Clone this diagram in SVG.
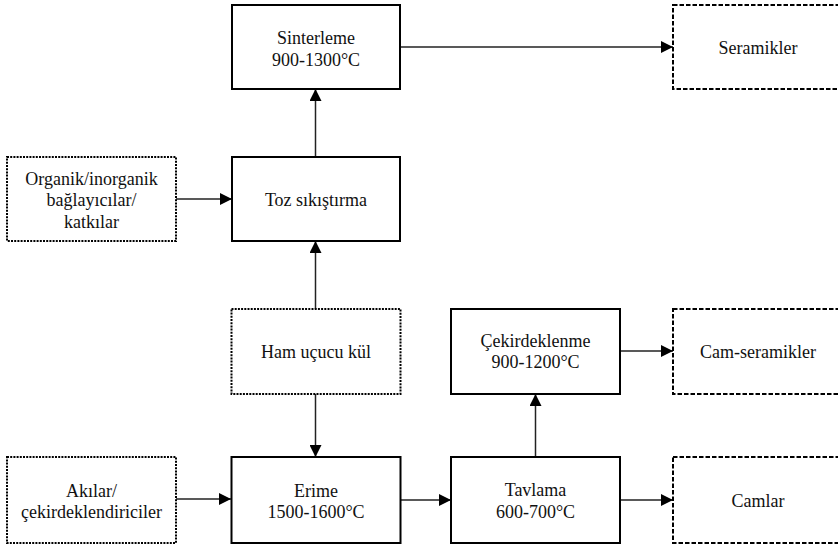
<svg xmlns="http://www.w3.org/2000/svg" width="838" height="549" viewBox="0 0 838 549">
  <style>
    .box { fill: #fff; stroke: #000; stroke-width: 2; }
    .input { fill: #fff; stroke: #000; stroke-width: 2; stroke-dasharray: 2 1.2; }
    .product { fill: #fff; stroke: #000; stroke-width: 2; stroke-dasharray: 4.5 2; }
    text { font-family: "Liberation Serif", "Times New Roman", serif; font-size: 18px; fill: #111; text-anchor: middle; }
    .link { stroke: #222; stroke-width: 1.5; fill: none; marker-end: url(#arrow); }
  </style>
  <defs>
    <marker id="arrow" markerUnits="userSpaceOnUse" markerWidth="12" markerHeight="12" refX="12" refY="6" orient="auto">
      <path d="M0,0 L12,6 L0,12 Z" fill="#000"/>
    </marker>
  </defs>
  <rect width="838" height="549" fill="#fff"/>

  <g id="connectors">
    <line class="link" x1="176" y1="199" x2="232" y2="199"/>
    <line class="link" x1="315.5" y1="157" x2="315.5" y2="89"/>
    <line class="link" x1="400" y1="47" x2="673" y2="47"/>
    <line class="link" x1="315.5" y1="309" x2="315.5" y2="241"/>
    <line class="link" x1="315.5" y1="394" x2="315.5" y2="457"/>
    <line class="link" x1="176" y1="499" x2="231" y2="499"/>
    <line class="link" x1="400" y1="500" x2="451" y2="500"/>
    <line class="link" x1="535.5" y1="457" x2="535.5" y2="394"/>
    <line class="link" x1="620" y1="351" x2="673" y2="351"/>
    <line class="link" x1="620" y1="500" x2="673" y2="500"/>
  </g>

  <g id="sinterleme">
    <rect class="box" x="232" y="5" width="168" height="84"/>
    <text x="316" y="44">Sinterleme</text>
    <text x="316" y="66">900-1300°C</text>
  </g>
  <g id="seramikler">
    <rect class="product" x="673" y="5" width="170" height="84"/>
    <text x="758" y="54">Seramikler</text>
  </g>
  <g id="organik">
    <rect class="input" x="7" y="157" width="169" height="84"/>
    <text x="91.5" y="185">Organik/inorganik</text>
    <text x="91.5" y="206">bağlayıcılar/</text>
    <text x="91.5" y="227.5">katkılar</text>
  </g>
  <g id="toz">
    <rect class="box" x="232" y="157" width="168" height="84"/>
    <text x="316" y="205.5">Toz sıkıştırma</text>
  </g>
  <g id="ham">
    <rect class="input" x="231.5" y="309" width="169" height="85"/>
    <text x="316" y="358">Ham uçucu kül</text>
  </g>
  <g id="cekirdeklenme">
    <rect class="box" x="451" y="309" width="169" height="85"/>
    <text x="535.5" y="346.5">Çekirdeklenme</text>
    <text x="535.5" y="368">900-1200°C</text>
  </g>
  <g id="cam-seramikler">
    <rect class="product" x="673" y="309" width="170" height="85"/>
    <text x="758" y="358">Cam-seramikler</text>
  </g>
  <g id="akilar">
    <rect class="input" x="7" y="457" width="169" height="86"/>
    <text x="91.5" y="496.5">Akılar/</text>
    <text x="91.5" y="518">çekirdeklendiriciler</text>
  </g>
  <g id="erime">
    <rect class="box" x="231.5" y="457" width="169" height="86"/>
    <text x="316" y="496.5">Erime</text>
    <text x="316" y="518">1500-1600°C</text>
  </g>
  <g id="tavlama">
    <rect class="box" x="451" y="457" width="169" height="86"/>
    <text x="535.5" y="496">Tavlama</text>
    <text x="535.5" y="518">600-700°C</text>
  </g>
  <g id="camlar">
    <rect class="product" x="673" y="457" width="170" height="86"/>
    <text x="758" y="506.5">Camlar</text>
  </g>
</svg>
